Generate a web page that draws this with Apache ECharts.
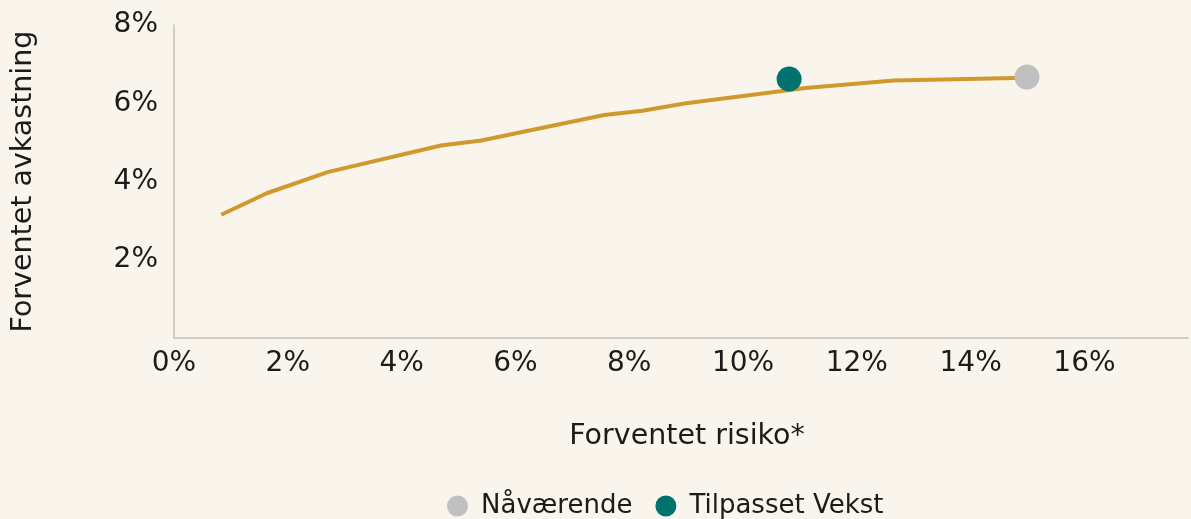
<!DOCTYPE html>
<html>
<head>
<meta charset="utf-8">
<script src="https://cdn.jsdelivr.net/npm/echarts@6/dist/echarts.min.js"></script>
<style>
  html, body { margin:0; padding:0; background:#f9f5ec; }
  #chart { width:1191px; height:519px; }
</style>
</head>
<body>
<div id="chart"></div>
<script>
// effisient front: [risiko %, avkastning %]
var frontRisk   = [0.83, 1.63, 2.70, 4.69, 5.40, 7.56, 8.23, 9.00, 11.10, 12.65, 14.99];
var frontReturn = [3.15, 3.70, 4.24, 4.92, 5.05, 5.70, 5.81, 6.00, 6.39, 6.58, 6.65];

var currentPoint = [14.99, 6.67];   // Nåværende
var adjustedPoint = [10.81, 6.62];  // Tilpasset Vekst

var xTicks = [0, 2, 4, 6, 8, 10, 12, 14, 16];
var yTicks = [2, 4, 6, 8];

var frontData = frontRisk.map(function(r, i){ return [r, frontReturn[i]]; });

var font = 'DejaVu Sans';
var textColor = '#1b1b1b';

var chart = echarts.init(document.getElementById('chart'));
chart.setOption({
  backgroundColor:'#f9f5ec',
  animation:false,
  textStyle:{ fontFamily:font },
  grid:{ left:174, right:0, top:25, bottom:181, containLabel:false },
  legend:{
    top:488,
    left:442,
    icon:'circle',
    itemWidth:21,
    itemHeight:21,
    itemGap:23,
    data:['Nåværende','Tilpasset Vekst'],
    textStyle:{ fontFamily:font, fontSize:26, color:textColor, padding:[0,0,0,8] }
  },
  xAxis:{
    type:'value',
    min:0,
    max:17.82,
    interval:2,
    name:'Forventet risiko*',
    nameLocation:'middle',
    nameGap:84,
    nameTextStyle:{ fontFamily:font, fontSize:28.5, color:textColor, padding:[0,0,0,12] },
    axisLine:{ show:true, lineStyle:{ color:'#c4c0b8', width:1.5 } },
    axisTick:{ show:false },
    splitLine:{ show:false },
    axisLabel:{
      margin:12,
      fontSize:28,
      color:textColor,
      fontFamily:font,
      formatter:function(v){ return xTicks.indexOf(v) >= 0 ? v + '%' : ''; }
    }
  },
  yAxis:{
    type:'value',
    min:0,
    max:8,
    interval:2,
    name:'Forventet avkastning',
    nameLocation:'middle',
    nameGap:136,
    nameTextStyle:{ fontFamily:font, fontSize:28.5, color:textColor },
    axisLine:{ show:true, lineStyle:{ color:'#c4c0b8', width:1.5 } },
    axisTick:{ show:false },
    splitLine:{ show:false },
    axisLabel:{
      margin:16,
      fontSize:28,
      color:textColor,
      fontFamily:font,
      formatter:function(v){ return yTicks.indexOf(v) >= 0 ? v + '%' : ''; }
    }
  },
  series:[
    {
      name:'Front',
      type:'line',
      data:frontData,
      symbol:'none',
      lineStyle:{ color:'#cf992e', width:4 },
      z:1
    },
    {
      name:'Nåværende',
      type:'scatter',
      data:[currentPoint],
      symbolSize:25,
      itemStyle:{ color:'#c0c0c0', opacity:1 },
      z:3
    },
    {
      name:'Tilpasset Vekst',
      type:'scatter',
      data:[adjustedPoint],
      symbolSize:25,
      itemStyle:{ color:'#00736f', opacity:1 },
      z:3
    }
  ]
});
</script>
</body>
</html>
